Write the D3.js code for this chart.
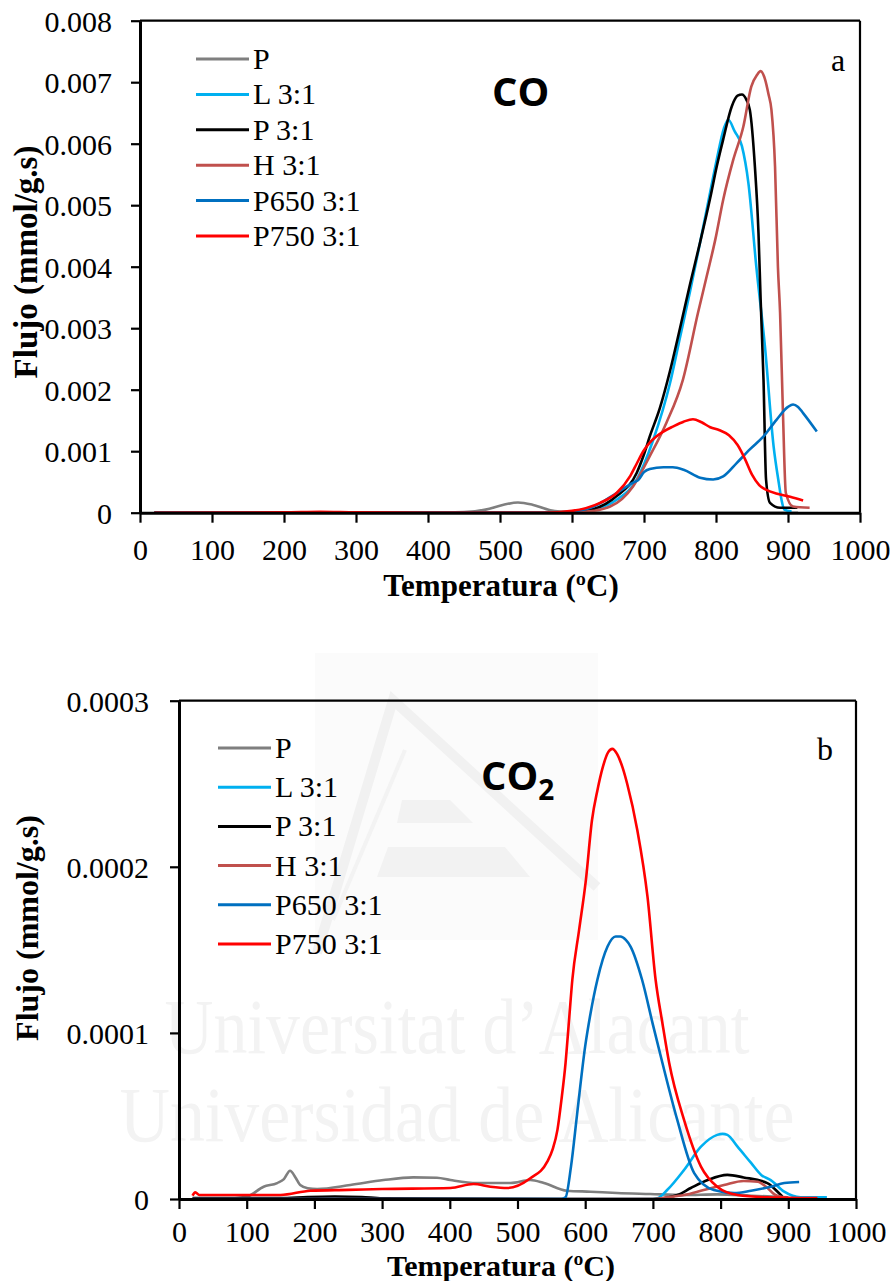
<!DOCTYPE html>
<html>
<head>
<meta charset="utf-8">
<script src="https://cdn.jsdelivr.net/npm/d3@7"></script>
<style>
  body { margin: 0; background: #fff; }
  svg { display: block; }
</style>
</head>
<body>
<div id="viz"></div>
<script>
// legend order and colours (Excel-like)
const seriesNames  = ["P", "L 3:1", "P 3:1", "H 3:1", "P650 3:1", "P750 3:1"];
const seriesColors = ["#7f7f7f", "#00b0f0", "#000000", "#c0504d", "#0070c0", "#ff0000"];

// ---- panel a : CO, [temperature ºC, flow in 0.001 mmol/g.s]
const coP = [[20,0],[200,0],[400,0],[450,0.01],[480,0.05],[505,0.13],[525,0.165],[545,0.13],[570,0.04],[600,0.01],[650,0],[800,0],[914,0]];
const coL = [[20,0],[300,0],[560,0],[600,0.01],[630,0.05],[662,0.21],[690,0.54],[713,1.19],[736,2.1],[750,2.85],[764,3.6],[778,4.4],[790,5.1],[801,5.74],[811,6.25],[817,6.39],[826,6.2],[836,5.96],[845,5.36],[856,4.0],[868,2.7],[880,1.08],[887,0.5],[891,0.21],[895,0.05],[905,0.02]];
const coP31 = [[20,0],[560,0],[600,0.01],[630,0.06],[662,0.27],[690,0.65],[700,0.95],[708,1.24],[722,1.7],[736,2.3],[750,3.0],[764,3.72],[778,4.4],[792,5.12],[801,5.63],[810,6.07],[822,6.61],[830,6.78],[836,6.8],[842,6.72],[847,6.55],[854,5.63],[859,4.55],[862,3.46],[866,2.16],[869.5,0.54],[875,0.16],[889,0.08],[913,0.08]];
const coH = [[20,0],[560,0],[620,0.02],[653,0.1],[685,0.43],[708,0.92],[731,1.46],[754,2.16],[775,3.25],[787,3.84],[799,4.44],[810,5.09],[824,5.74],[838,6.28],[849,6.93],[857,7.12],[862,7.18],[868,7.05],[873,6.8],[877,6.55],[882,5.63],[886,4.0],[889,3.25],[893,1.62],[897,0.32],[907,0.1],[930,0.08]];
const coP650 = [[20,0],[560,0],[600,0.02],[630,0.1],[662,0.32],[685,0.49],[692,0.53],[700,0.66],[708,0.71],[727,0.74],[740,0.74],[755,0.7],[778,0.57],[796,0.54],[810,0.59],[829,0.81],[847,1.03],[866,1.24],[884,1.51],[900,1.72],[907,1.76],[914,1.72],[921,1.62],[940,1.32]];
const coP750 = [[20,0],[200,0.005],[250,0.015],[300,0.005],[400,0],[560,0],[600,0.03],[639,0.16],[662,0.32],[681,0.6],[690,0.8],[699,1.0],[708,1.14],[717,1.24],[727,1.32],[740,1.4],[755,1.48],[768,1.52],[780,1.47],[792,1.39],[805,1.34],[818,1.26],[830,1.1],[840,0.88],[850,0.62],[860,0.45],[870,0.37],[885,0.31],[903,0.26],[921,0.2]];
const CO_UNIT = 1e-3;

// ---- panel b : CO2, [temperature ºC, flow in 0.00001 mmol/g.s]
const co2P = [[20,0],[60,0],[100,0.14],[125,0.74],[145,0.96],[155,1.2],[164,1.7],[172,1.3],[179,0.84],[190,0.65],[204,0.6],[253,0.84],[302,1.14],[346,1.3],[381,1.28],[401,1.14],[440,0.96],[490,0.96],[519,1.14],[539,0.96],[573,0.5],[608,0.44],[647,0.36],[696,0.3],[746,0.24],[795,0.28],[845,0.2],[900,0.1]];
const co2L = [[20,0],[700,0],[707,0.05],[721,0.54],[746,1.75],[771,3.15],[795,3.86],[803,3.92],[810,3.86],[825,3.15],[845,2.17],[860,1.45],[874,1.14],[894,0.44],[918,0.1],[957,0.1]];
const co2P31 = [[20,0.05],[150,0.05],[190,0.12],[230,0.15],[270,0.12],[300,0.04],[700,0],[736,0.24],[756,0.66],[781,1.14],[810,1.45],[834,1.3],[869,0.96],[889,0.24],[894,0.05],[920,0.02]];
const co2H = [[20,0],[700,0],[721,0.1],[746,0.24],[775,0.54],[805,0.84],[834,1.08],[855,1.04],[867,0.74],[881,0.24],[900,0.05]];
const co2P650 = [[20,0],[565,0],[571,0.1],[579,1.95],[588,5.1],[600,9.2],[608,11.2],[618,13.2],[633,15.2],[645,15.8],[652,15.8],[660,15.6],[667,15.2],[684,13.2],[700,10.5],[714,8.2],[736,4.76],[761,1.56],[790,0.54],[820,0.36],[845,0.5],[874,0.74],[894,0.96],[916,1.02]];
const co2P750 = [[20,0.2],[24,0.4],[30,0.24],[150,0.24],[194,0.5],[250,0.55],[300,0.6],[401,0.66],[435,0.9],[460,0.74],[485,0.66],[519,1.25],[544,2.25],[552,3.0],[559,4.16],[565,6.0],[571,8.2],[576,10.7],[581,13.2],[591,16.2],[601,19.2],[610,22.8],[618,24.6],[626,26.0],[634,26.9],[640,27.1],[647,26.8],[655,26.0],[662,25.0],[677,22.2],[692,18.2],[704,13.2],[714,10.6],[724,8.2],[746,4.76],[771,1.95],[795,0.74],[825,0.24],[870,0.1],[943,0.05]];
const CO2_UNIT = 1e-5;

// axis ticks
const xTicks = [0,100,200,300,400,500,600,700,800,900,1000];
const xLabels = ["0","100","200","300","400","500","600","700","800","900","1000"];
const coYTicks = [0,0.001,0.002,0.003,0.004,0.005,0.006,0.007,0.008];
const coYLabels = ["0","0.001","0.002","0.003","0.004","0.005","0.006","0.007","0.008"];
const co2YTicks = [0,0.0001,0.0002,0.0003];
const co2YLabels = ["0","0.0001","0.0002","0.0003"];

const SERIF = "'Liberation Serif','Times New Roman',serif";
const SANS = "'Open Sans','Liberation Sans',sans-serif";

const svg = d3.select("#viz").append("svg")
  .attr("width", 896).attr("height", 1281)
  .style("background", "#fff");

// faint repository watermark behind the lower chart
const wm = svg.append("g").attr("class", "watermark");
wm.append("rect").attr("x", 315).attr("y", 653).attr("width", 283).attr("height", 287).attr("fill", "#fbfbfb");
wm.append("path").attr("d", "M317,953 L393,700 L597,887").attr("fill", "none").attr("stroke", "#f1f1f1").attr("stroke-width", 10);
wm.append("path").attr("d", "M405,750 L333,920").attr("fill", "none").attr("stroke", "#f3f3f3").attr("stroke-width", 4);
wm.append("path").attr("d", "M402,800 L450,800 L473,823 L397,823 Z").attr("fill", "#f2f2f2");
wm.append("path").attr("d", "M388,847 L505,847 L530,877 L377,877 Z").attr("fill", "#f2f2f2");
wm.append("text").attr("x", 457).attr("y", 1053).attr("text-anchor", "middle")
  .attr("font-family", SERIF).attr("font-size", 78).attr("fill", "#f3f3f3")
  .attr("textLength", 585).attr("lengthAdjust", "spacingAndGlyphs")
  .text("Universitat d\u2019Alacant");
wm.append("text").attr("x", 457).attr("y", 1141).attr("text-anchor", "middle")
  .attr("font-family", SERIF).attr("font-size", 78).attr("fill", "#f3f3f3")
  .attr("textLength", 675).attr("lengthAdjust", "spacingAndGlyphs")
  .text("Universidad de Alicante");

function drawPanel(p) {
  const x = d3.scaleLinear().domain([0, 1000]).range([p.x0, p.x1]);
  const y = d3.scaleLinear().domain([0, p.yMax]).range([p.y1, p.y0]);
  const g = svg.append("g");

  // lines
  const line = d3.line()
    .x(d => x(d[0]))
    .y(d => y(d[1] * p.unit))
    .curve(d3.curveMonotoneX);
  g.selectAll("path.series")
    .data(p.series)
    .enter().append("path")
    .attr("class", "series")
    .attr("fill", "none")
    .attr("stroke", (d, i) => seriesColors[i])
    .attr("stroke-width", 2.6)
    .attr("stroke-linejoin", "round")
    .attr("d", d => line(d));

  // frame: top and right
  g.append("line").attr("x1", p.x0).attr("x2", p.x1).attr("y1", p.y0).attr("y2", p.y0)
    .attr("stroke", "#000").attr("stroke-width", 2.2);
  g.append("line").attr("x1", p.x1).attr("x2", p.x1).attr("y1", p.y0).attr("y2", p.y1)
    .attr("stroke", "#000").attr("stroke-width", 2.2);

  // axes
  const xAxis = g.append("g")
    .attr("transform", "translate(0," + p.y1 + ")")
    .call(d3.axisBottom(x).tickValues(xTicks).tickFormat((d, i) => xLabels[i]).tickSize(10).tickSizeOuter(0));
  xAxis.selectAll("text").attr("dy", null).attr("y", p.xLabelDy);

  const yAxis = g.append("g")
    .attr("transform", "translate(" + p.x0 + ",0)")
    .call(d3.axisLeft(y).tickValues(p.yTicks).tickFormat((d, i) => p.yLabels[i]).tickSize(9).tickSizeOuter(0));
  yAxis.selectAll("text").attr("x", -p.yLabelPad).attr("dy", "0.35em");

  [xAxis, yAxis].forEach(a => {
    a.select(".domain").attr("stroke", "#000").attr("stroke-width", 3);
    a.selectAll(".tick line").attr("stroke", "#000").attr("stroke-width", 2.2);
    a.selectAll("text").attr("font-family", SERIF).attr("font-size", 30).attr("fill", "#000");
  });

  // axis titles
  g.append("text")
    .attr("x", 501).attr("y", p.xTitleY)
    .attr("text-anchor", "middle")
    .attr("font-family", SERIF).attr("font-weight", "bold").attr("font-size", p.xTitleSize)
    .text("Temperatura (\u00baC)");
  g.append("text")
    .attr("transform", "translate(" + p.yTitleX + "," + p.yTitleY + ") rotate(-90)")
    .attr("text-anchor", "middle")
    .attr("font-family", SERIF).attr("font-weight", "bold").attr("font-size", p.yTitleSize)
    .text("Flujo (mmol/g.s)");

  // legend
  const leg = g.append("g");
  seriesNames.forEach((name, i) => {
    const ly = p.legY + i * p.legStep;
    leg.append("line").attr("x1", p.legX).attr("x2", p.legX + 53).attr("y1", ly).attr("y2", ly)
      .attr("stroke", seriesColors[i]).attr("stroke-width", 3);
    leg.append("text").attr("x", p.legX + 57).attr("y", ly + 10)
      .attr("font-family", SERIF).attr("font-size", 30).attr("fill", "#000")
      .text(name);
  });

  // gas label and panel letter
  const gas = g.append("text")
    .attr("x", p.gasX).attr("y", p.gasY)
    .attr("font-family", SANS).attr("font-weight", "bold").attr("font-size", 40).attr("fill", "#000")
    .text("CO");
  if (p.sub) {
    gas.append("tspan").attr("font-size", 28).attr("dy", 10).text(p.sub);
  }
  g.append("text")
    .attr("x", p.letterX).attr("y", p.letterY)
    .attr("font-family", SERIF).attr("font-size", 32).attr("fill", "#000")
    .text(p.letter);
}

drawPanel({
  x0: 140, x1: 860, y0: 20.7, y1: 512.7,
  yMax: 0.008, yTicks: coYTicks, yLabels: coYLabels, yLabelPad: 28,
  unit: CO_UNIT,
  series: [coP, coL, coP31, coH, coP650, coP750],
  xLabelDy: 47, xTitleY: 596, xTitleSize: 31,
  yTitleX: 37, yTitleY: 262, yTitleSize: 33,
  legX: 196, legY: 59, legStep: 35.4,
  gasX: 492, gasY: 106, sub: null,
  letter: "a", letterX: 831, letterY: 71
});

drawPanel({
  x0: 179, x1: 856, y0: 700.7, y1: 1199,
  yMax: 0.0003, yTicks: co2YTicks, yLabels: co2YLabels, yLabelPad: 30,
  unit: CO2_UNIT,
  series: [co2P, co2L, co2P31, co2H, co2P650, co2P750],
  xLabelDy: 43, xTitleY: 1276, xTitleSize: 30,
  yTitleX: 38, yTitleY: 928, yTitleSize: 32,
  legX: 218, legY: 748, legStep: 39.2,
  gasX: 481, gasY: 790, sub: "2",
  letter: "b", letterX: 817, letterY: 760
});
</script>
</body>
</html>
